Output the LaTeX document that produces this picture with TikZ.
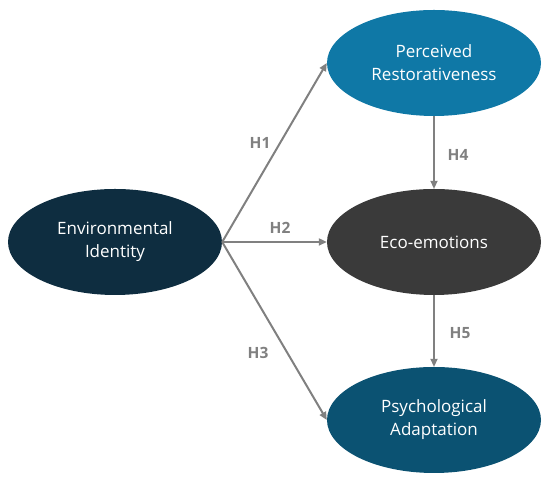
\documentclass[tikz,border=0pt]{standalone}
\usepackage{fontspec}
\setmainfont{Open Sans}
\usetikzlibrary{shapes.geometric,arrows.meta}

\definecolor{navy}{HTML}{0E2D40}
\definecolor{ocean}{HTML}{0F78A6}
\definecolor{coal}{HTML}{3A3A3A}
\definecolor{teal}{HTML}{0B5272}
\definecolor{link}{HTML}{808080}

\begin{document}
\begin{tikzpicture}[x=1pt,y=1pt,
        construct/.style={ellipse,draw=none,text=white,inner sep=0pt,
            minimum width=214pt,minimum height=106pt,align=center,
            font=\fontsize{17}{23}\selectfont},
        path arrow/.style={draw=link,line width=2pt,
            -{Triangle[length=8pt,width=7pt]}},
        hyp label/.style={text=link,font=\fontsize{15.5}{17}\bfseries\selectfont}]

        \useasboundingbox (0,0) rectangle (550,486);

        \node[construct,fill=navy]  (env)   at (115,244) {Environmental\\Identity};
        \node[construct,fill=ocean] (perc)  at (434,423) {Perceived\\Restorativeness};
        \node[construct,fill=coal]  (eco)   at (434,244) {Eco-emotions};
        \node[construct,fill=teal]  (psych) at (434,66)  {Psychological\\Adaptation};

        \path
            (env.east) edge [path arrow] (perc.west)
            (env.east) edge [path arrow] (eco.west)
            (env.east) edge [path arrow] (psych.west)
            (perc.south) edge [path arrow] (eco.north)
            (eco.south) edge [path arrow] (psych.north);

        \node[hyp label] (h1) at (260,343) {H1};
        \node[hyp label] (h2) at (280,258) {H2};
        \node[hyp label] (h3) at (258,133) {H3};
        \node[hyp label] (h4) at (458,331) {H4};
        \node[hyp label] (h5) at (460,153) {H5};
    \end{tikzpicture}
\end{document}
